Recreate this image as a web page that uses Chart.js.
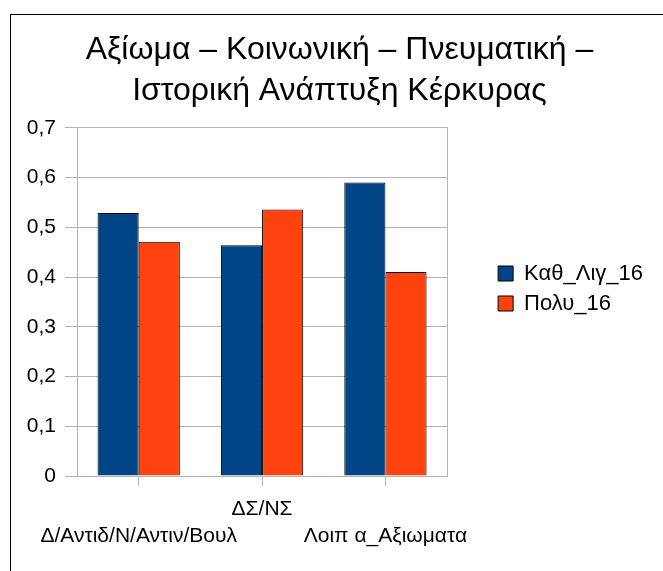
<!DOCTYPE html>
<html>
<head>
<meta charset="utf-8">
<script src="https://cdn.jsdelivr.net/npm/chart.js@4"></script>
<style>
  html, body { margin: 0; padding: 0; background: #fff; overflow: hidden; }
  #wrap { position: relative; width: 663px; height: 571px; }
  #frame { position: absolute; left: 10px; top: 14px; width: 700px; height: 600px;
           border-left: 1px solid #000; border-top: 1px solid #000; pointer-events: none; }
</style>
</head>
<body>
<div id="wrap">
  <canvas id="chart" width="663" height="571"></canvas>
  <div id="frame"></div>
</div>
<script>
// data
const categories = ['Δ/Αντιδ/Ν/Αντιν/Βουλ', 'ΔΣ/ΝΣ', 'Λοιπ α_Αξιωματα'];
const kathLig16 = [0.529, 0.464, 0.59];
const poly16 = [0.471, 0.536, 0.41];
const titleLines = ['Αξίωμα – Κοινωνική – Πνευματική –', 'Ιστορική Ανάπτυξη Κέρκυρας'];

// labels alternate between two rows, like the original
const staggered = categories.map((c, i) => i % 2 === 0 ? ['', c] : [c, '']);

const fontFam = '"Liberation Sans", Arial, sans-serif';
const gridGray = '#b3b3b3';
Chart.defaults.color = '#000';
Chart.defaults.font.family = fontFam;

const ctx = document.getElementById('chart').getContext('2d');
const chart = new Chart(ctx, {
    type: 'bar',
    data: {
        labels: staggered,
        datasets: [
            {
                label: 'Καθ_Λιγ_16',
                data: kathLig16,
                backgroundColor: '#004586',
                borderColor: '#000',
                borderWidth: 1
            },
            {
                label: 'Πολυ_16',
                data: poly16,
                backgroundColor: '#ff420e',
                borderColor: '#000',
                borderWidth: 1
            }
        ]
    },
    options: {
        responsive: false,
        animation: false,
        layout: { padding: { left: 26, right: 10, top: 14, bottom: 8 } },
        datasets: { bar: { categoryPercentage: 0.667, barPercentage: 1 } },
        plugins: {
            title: {
                display: true,
                text: titleLines,
                font: { size: 32, weight: 'normal', lineHeight: 1.28 },
                padding: { top: 16, bottom: 16 }
            },
            legend: {
                position: 'right',
                maxWidth: 300,
                labels: {
                    boxWidth: 15,
                    boxHeight: 15,
                    padding: 8,
                    font: { size: 22 }
                }
            },
            tooltip: { enabled: false }
        },
        scales: {
            x: {
                grid: { offset: false, drawOnChartArea: false, drawTicks: true, tickLength: 10, color: gridGray },
                border: { color: gridGray },
                ticks: { autoSkip: false, maxRotation: 0, padding: 10, font: { size: 21, lineHeight: 1.29 } },
                afterFit: (scale) => { scale.height = 87; }
            },
            y: {
                min: 0,
                max: 0.7,
                ticks: {
                    stepSize: 0.1,
                    padding: 9,
                    font: { size: 21 },
                    callback: (v) => v === 0 ? '0' : (Math.round(v * 10) / 10).toFixed(1).replace('.', ',')
                },
                grid: { color: gridGray, tickLength: 12 },
                border: { color: gridGray },
                afterFit: (scale) => { scale.width = 51; }
            },
            y2: {
                position: 'right',
                min: 0,
                max: 0.7,
                ticks: { display: false },
                grid: { display: false },
                border: { color: gridGray },
                afterFit: (scale) => { scale.width = 43; }
            }
        }
    }
});
</script>
</body>
</html>
